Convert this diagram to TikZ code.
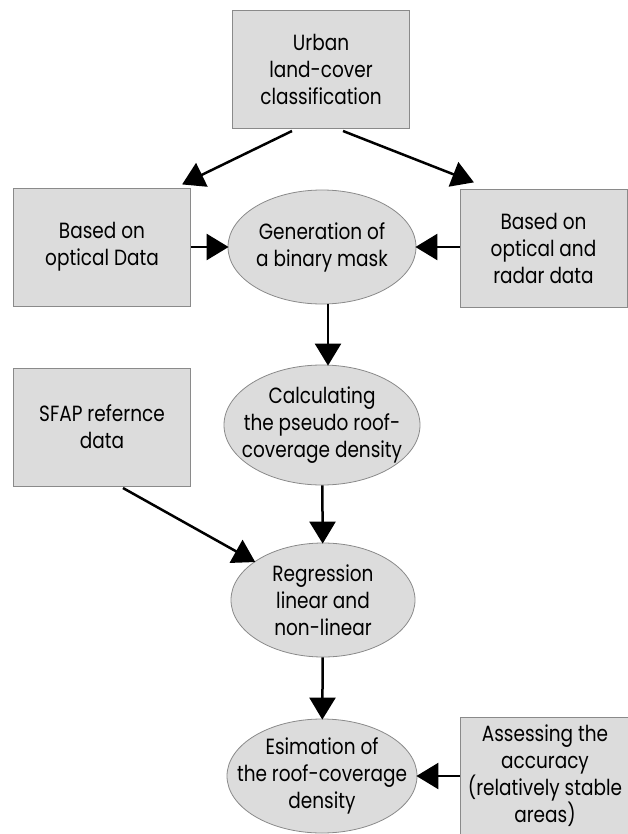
\documentclass[tikz,border=0pt]{standalone}
\usepackage{fontspec}
\setmainfont{Poppins}[FakeStretch=0.84]
\usetikzlibrary{arrows.meta, shapes.geometric}
\definecolor{boxfill}{HTML}{DCDCDC}
\definecolor{boxline}{HTML}{8A8A8A}
\tikzset{>={Triangle[length=22pt, width=26pt]}}
\tikzset{
  databox/.style={draw=boxline, fill=boxfill, line width=0.8pt, inner sep=0pt, minimum width=177pt, minimum height=118pt, align=center, font=\fontsize{22}{27}\selectfont},
  stepell/.style={draw=boxline, fill=boxfill, line width=0.8pt, ellipse, inner ysep=0pt, inner xsep=-25pt, minimum width=188pt, minimum height=114pt, align=center, font=\fontsize{22}{27}\selectfont},
  flow/.style={line width=2.5pt, ->, shorten >=-1pt}
}

\begin{document}
\begin{tikzpicture}[x=1pt, y=1pt]
\useasboundingbox (0,0) rectangle (627,-834);
% boxes
\node[databox] (urban)  at (321,-69)  {Urban\\land-cover\\classification};
\node[databox] (optic)  at (102,-247) {Based on\\optical Data};
\node[databox, minimum width=167pt] (radar)  at (543.5,-248) {Based on\\optical and\\radar data};
\node[databox] (sfap)   at (102,-427) {SFAP refernce\\data};
\node[databox] (assess) at (548.5,-776) {\hspace*{-7pt}Assessing the\\\hspace*{-7pt}accuracy\\\hspace*{-7pt}(relatively stable\\\hspace*{-7pt}areas)};
% steps
\node[stepell] (mask)  at (322,-247) {Generation of\\a binary mask};
\node[stepell, minimum width=196pt, minimum height=120pt] (pseudo) at (322,-425) {Calculating\\the pseudo roof-\\coverage density};
\node[stepell, minimum width=184pt] (regr)  at (323,-600) {Regression\\linear and\\non-linear};
\node[stepell, minimum width=190pt] (estim) at (322,-776) {Esimation of\\the roof-coverage\\density};
% connectors
\coordinate (optictip) at (183,-184);
\coordinate (radartip) at (473,-182);
\draw[flow] (292,-131) -- (optictip);
\draw[flow] (343,-131) -- (radartip);
\draw[flow] (optic) -- (mask);
\draw[flow] (radar.west |- mask) -- (mask);
\draw[flow] (mask.south -| 328,0) -- (pseudo.north -| 328,0);
\draw[flow] (pseudo) -- (regr);
\draw[flow] (123,-488) -- (regr);
\draw[flow] (regr) -- (estim);
\draw[flow] (assess.west) -- (estim);
\end{tikzpicture}
\end{document}
